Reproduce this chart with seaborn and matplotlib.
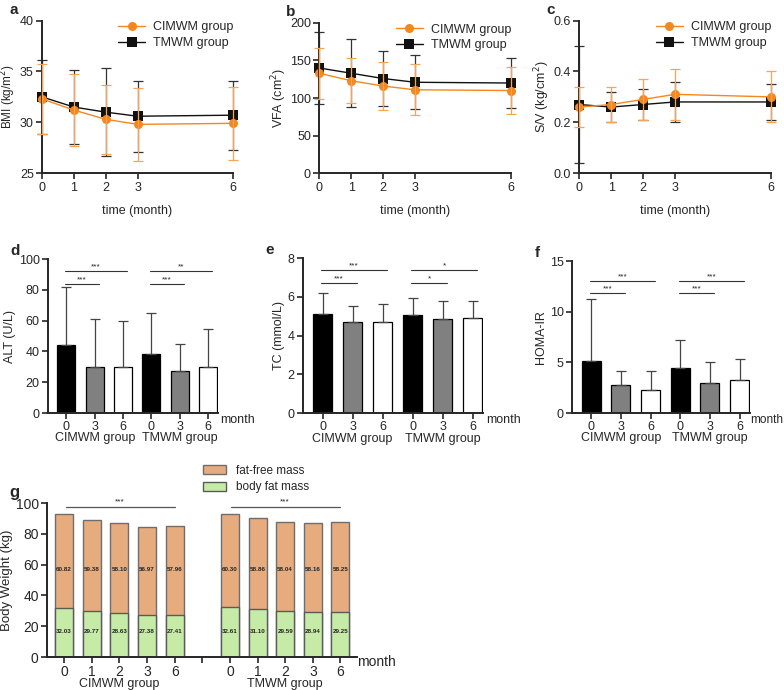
import matplotlib
matplotlib.use('Agg')
import matplotlib.pyplot as plt
import seaborn as sns
import pandas as pd
from matplotlib.lines import Line2D
from matplotlib.patches import Patch

sns.set_style('ticks')
plt.rcParams['font.family'] = ['Liberation Sans', 'DejaVu Sans']
plt.rcParams['axes.linewidth'] = 1.4
plt.rcParams['xtick.major.width'] = 1.2
plt.rcParams['ytick.major.width'] = 1.2
plt.rcParams['xtick.major.size'] = 4
plt.rcParams['ytick.major.size'] = 4
plt.rcParams['xtick.labelsize'] = 9
plt.rcParams['ytick.labelsize'] = 9

ORANGE = '#F5871F'
ORANGE_ERR = '#F4A556'
DARK = '#111111'

# ---- data: line panels (mean, SD) ----
months = [0, 1, 2, 3, 6]
bmi_cimwm = [32.3, 31.2, 30.3, 29.8, 29.9]
bmi_cimwm_sd = [3.4, 3.5, 3.4, 3.6, 3.6]
bmi_tmwm = [32.5, 31.5, 31.0, 30.6, 30.7]
bmi_tmwm_sd = [3.6, 3.6, 4.3, 3.5, 3.4]

vfa_cimwm = [133, 123, 116, 111, 110]
vfa_cimwm_sd = [34, 30, 32, 34, 31]
vfa_tmwm = [140, 133, 126, 121, 120]
vfa_tmwm_sd = [48, 45, 36, 36, 33]

sv_cimwm = [0.26, 0.27, 0.29, 0.31, 0.30]
sv_cimwm_sd = [0.08, 0.07, 0.08, 0.10, 0.10]
sv_tmwm = [0.27, 0.26, 0.27, 0.28, 0.28]
sv_tmwm_sd = [0.23, 0.06, 0.06, 0.08, 0.07]

# ---- data: bar panels (CIMWM 0,3,6 then TMWM 0,3,6) ----
bar_keys = ['c0', 'c3', 'c6', 't0', 't3', 't6']
bar_ticklabels = ['0', '3', '6', '0', '3', '6']
alt_mean = [44.5, 30.2, 29.6, 38.2, 27.6, 30.2]
alt_sd = [37.5, 31.0, 30.0, 26.8, 17.2, 24.3]
tc_mean = [5.12, 4.70, 4.70, 5.06, 4.88, 4.92]
tc_sd = [1.08, 0.84, 0.94, 0.88, 0.92, 0.88]
homa_mean = [5.1, 2.75, 2.25, 4.4, 3.0, 3.25]
homa_sd = [6.2, 1.4, 1.9, 2.8, 2.0, 2.05]

alt_sig = [(0, 2, 92, '***'), (0, 1, 84, '***'), (3, 5, 92, '**'), (3, 4, 84, '***')]
tc_sig = [(0, 2, 7.4, '***'), (0, 1, 6.7, '***'), (3, 5, 7.4, '*'), (3, 4, 6.7, '*')]
homa_sig = [(0, 2, 13.0, '***'), (0, 1, 11.8, '***'), (3, 5, 13.0, '***'), (3, 4, 11.8, '***')]

# ---- data: body composition ----
g_months = ['0', '1', '2', '3', '6']
fat_free_cimwm = [60.82, 59.38, 58.10, 56.97, 57.96]
body_fat_cimwm = [32.03, 29.77, 28.63, 27.38, 27.41]
fat_free_tmwm = [60.30, 58.86, 58.04, 58.16, 58.25]
body_fat_tmwm = [32.61, 31.10, 29.59, 28.94, 29.25]

fig = plt.figure(figsize=(7.84, 6.90), dpi=100)


def style_axis(ax):
    sns.despine(ax=ax)
    ax.tick_params(direction='out', pad=2)


def line_panel(rect, c_mean, c_sd, t_mean, t_sd, ylim, yticks, ylabel, letter,
               ylabel_size=9):
    ax = fig.add_axes(rect)
    df = pd.DataFrame({
        'month': months * 2,
        'value': t_mean + c_mean,
        'group': ['TMWM group'] * 5 + ['CIMWM group'] * 5,
    })
    eb1 = ax.errorbar(months, t_mean, yerr=t_sd, fmt='none', ecolor='#333333',
                      elinewidth=0.9, capsize=3.5, capthick=0.9, zorder=2)
    eb2 = ax.errorbar(months, c_mean, yerr=c_sd, fmt='none', ecolor=ORANGE_ERR,
                      elinewidth=0.9, capsize=3.5, capthick=0.9, zorder=3)
    sns.lineplot(data=df, x='month', y='value', hue='group', style='group',
                 hue_order=['TMWM group', 'CIMWM group'],
                 palette={'CIMWM group': ORANGE, 'TMWM group': DARK},
                 markers={'CIMWM group': 'o', 'TMWM group': 's'}, dashes=False,
                 markersize=6.5, markeredgewidth=0, linewidth=1, legend=False, ax=ax)
    for ln in ax.lines:
        ln.set_clip_on(False)
    for eb in (eb1, eb2):
        for child in eb.get_children():
            child.set_clip_on(False)
    ax.set_xlim(0, 6)
    ax.set_xticks(months)
    ax.set_ylim(*ylim)
    ax.set_yticks(yticks)
    ax.set_xlabel('time (month)', fontsize=9, labelpad=8)
    ax.set_ylabel(ylabel, fontsize=ylabel_size, labelpad=1)
    style_axis(ax)
    handles = [Line2D([], [], color=ORANGE, marker='o', markersize=6.5, markeredgewidth=0, lw=1),
               Line2D([], [], color=DARK, marker='s', markersize=6.5, markeredgewidth=0, lw=1)]
    ax.legend(handles, ['CIMWM group', 'TMWM group'], loc='upper right',
              bbox_to_anchor=(1.06, 1.07), frameon=False, fontsize=9,
              handlelength=2.2, handletextpad=0.6, labelspacing=0.3)
    fig.text(rect[0] - 0.042, rect[1] + rect[3] + 0.005, letter, fontsize=11,
             fontweight='bold', va='bottom')
    return ax


def bar_panel(rect, means, sds, ylim, yticks, ylabel, sig, letter,
              month_x=1.015, month_size=9):
    ax = fig.add_axes(rect)
    df = pd.DataFrame({'key': bar_keys, 'value': means})
    sns.barplot(data=df, x='key', y='value', hue='key', order=bar_keys,
                palette={'c0': 'black', 'c3': '#808080', 'c6': 'white',
                         't0': 'black', 't3': '#808080', 't6': 'white'},
                width=0.64, edgecolor='black', linewidth=0.9, legend=False, ax=ax)
    ax.errorbar(range(6), means, yerr=[[0] * 6, sds], fmt='none', ecolor='#444444',
                elinewidth=0.9, capsize=3.5, capthick=0.9)
    span = ylim[1] - ylim[0]
    for x0, x1, y, stars in sig:
        ax.plot([x0 - 0.05, x1 + 0.15], [y, y], color='#333333', lw=0.8)
        ax.text((x0 + x1) / 2 + 0.05, y + span * 0.005, stars, ha='center',
                va='bottom', fontsize=6)
    ax.set_xlim(-0.65, 5.35)
    ax.set_ylim(*ylim)
    ax.set_yticks(yticks)
    ax.set_xticks(range(6))
    ax.set_xticklabels(bar_ticklabels)
    ax.set_xlabel('')
    ax.set_ylabel(ylabel, fontsize=9, labelpad=2)
    style_axis(ax)
    ax.text(1, -0.165, 'CIMWM group', transform=ax.get_xaxis_transform(),
            ha='center', va='center', fontsize=9)
    ax.text(4, -0.165, 'TMWM group', transform=ax.get_xaxis_transform(),
            ha='center', va='center', fontsize=9)
    ax.text(month_x, -0.045, 'month', transform=ax.transAxes, ha='left',
            va='center', fontsize=month_size)
    fig.text(rect[0] - 0.048, rect[1] + rect[3] + 0.002, letter, fontsize=11,
             fontweight='bold', va='bottom')
    return ax


line_panel([0.0536, 0.749, 0.2436, 0.2212], bmi_cimwm, bmi_cimwm_sd, bmi_tmwm,
           bmi_tmwm_sd, (25, 40), [25, 30, 35, 40], 'BMI (kg/m$^2$)', 'a',
           ylabel_size=8.5)
line_panel([0.4073, 0.749, 0.2441, 0.2178], vfa_cimwm, vfa_cimwm_sd, vfa_tmwm,
           vfa_tmwm_sd, (0, 200), [0, 50, 100, 150, 200], 'VFA (cm$^2$)', 'b')
ax_c = line_panel([0.7389, 0.749, 0.2441, 0.2212], sv_cimwm, sv_cimwm_sd, sv_tmwm,
                  sv_tmwm_sd, (0, 0.6), [0.0, 0.2, 0.4, 0.6], 'S/V (kg/cm$^2$)', 'c')
ax_c.set_yticklabels(['0.0', '0.2', '0.4', '0.6'])

bar_panel([0.0612, 0.4014, 0.2168, 0.2232], alt_mean, alt_sd, (0, 100),
          [0, 20, 40, 60, 80, 100], 'ALT (U/L)', alt_sig, 'd')
bar_panel([0.3865, 0.4014, 0.2296, 0.2243], tc_mean, tc_sd, (0, 8),
          [0, 2, 4, 6, 8], 'TC (mmol/L)', tc_sig, 'e')
bar_panel([0.7296, 0.4014, 0.2270, 0.2203], homa_mean, homa_sd, (0, 15),
          [0, 5, 10, 15], 'HOMA-IR', homa_sig, 'f', month_x=1.0, month_size=8.5)

# ---- panel g: stacked bars ----
axg = fig.add_axes([0.060, 0.0478, 0.3954, 0.2232])
g_pos = [0, 1, 2, 3, 4, 6, 7, 8, 9, 10]
fat_free = fat_free_cimwm + fat_free_tmwm
body_fat = body_fat_cimwm + body_fat_tmwm
gdf = pd.DataFrame({'pos': g_pos,
                    'total': [a + b for a, b in zip(fat_free, body_fat)],
                    'fat': body_fat})
sns.barplot(data=gdf, x='pos', y='total', native_scale=True, width=0.65,
            color='#E6AC7E', edgecolor='#6E6E6E', linewidth=1, saturation=1, ax=axg)
sns.barplot(data=gdf, x='pos', y='fat', native_scale=True, width=0.65,
            color='#C6EBA6', edgecolor='#5A5A5A', linewidth=1, saturation=1, ax=axg)
for p, ff, bf in zip(g_pos, fat_free, body_fat):
    axg.text(p, 57, f'{ff:.2f}', ha='center', va='center', fontsize=4.5,
             fontweight='bold')
    axg.text(p, 16.5, f'{bf:.2f}', ha='center', va='center', fontsize=4.5,
             fontweight='bold')
for x0, x1 in [(0, 4), (6, 10)]:
    axg.plot([x0 + 0.05, x1], [97.5, 97.5], color='#555555', lw=0.9, clip_on=False)
    axg.text((x0 + x1) / 2, 98.5, '***', ha='center', va='bottom', fontsize=6)
axg.set_xlim(-0.62, 10.6)
axg.set_ylim(0, 100)
axg.set_yticks([0, 20, 40, 60, 80, 100])
axg.set_xticks(range(11))
axg.set_xticklabels(g_months + [''] + g_months, fontsize=10)
axg.tick_params(axis='y', labelsize=10)
axg.set_xlabel('')
axg.set_ylabel('Body Weight (kg)', fontsize=9.5, labelpad=2)
style_axis(axg)
axg.text(2, -0.175, 'CIMWM group', transform=axg.get_xaxis_transform(),
         ha='center', va='center', fontsize=9)
axg.text(8, -0.175, 'TMWM group', transform=axg.get_xaxis_transform(),
         ha='center', va='center', fontsize=9)
axg.text(1.0, -0.035, 'month', transform=axg.transAxes, ha='left',
         va='center', fontsize=10)
g_handles = [Patch(facecolor='#E6AC7E', edgecolor='#6E6E6E'),
             Patch(facecolor='#C6EBA6', edgecolor='#5A5A5A')]
fig.legend(g_handles, ['fat-free mass', 'body fat mass'], loc='upper left',
           bbox_to_anchor=(0.245, 0.342), frameon=False, fontsize=8.5,
           handlelength=2.0, handleheight=0.8, labelspacing=0.4)
fig.text(0.012, 0.275, 'g', fontsize=12, fontweight='bold', va='bottom')

fig.savefig('out.png', dpi=100)
